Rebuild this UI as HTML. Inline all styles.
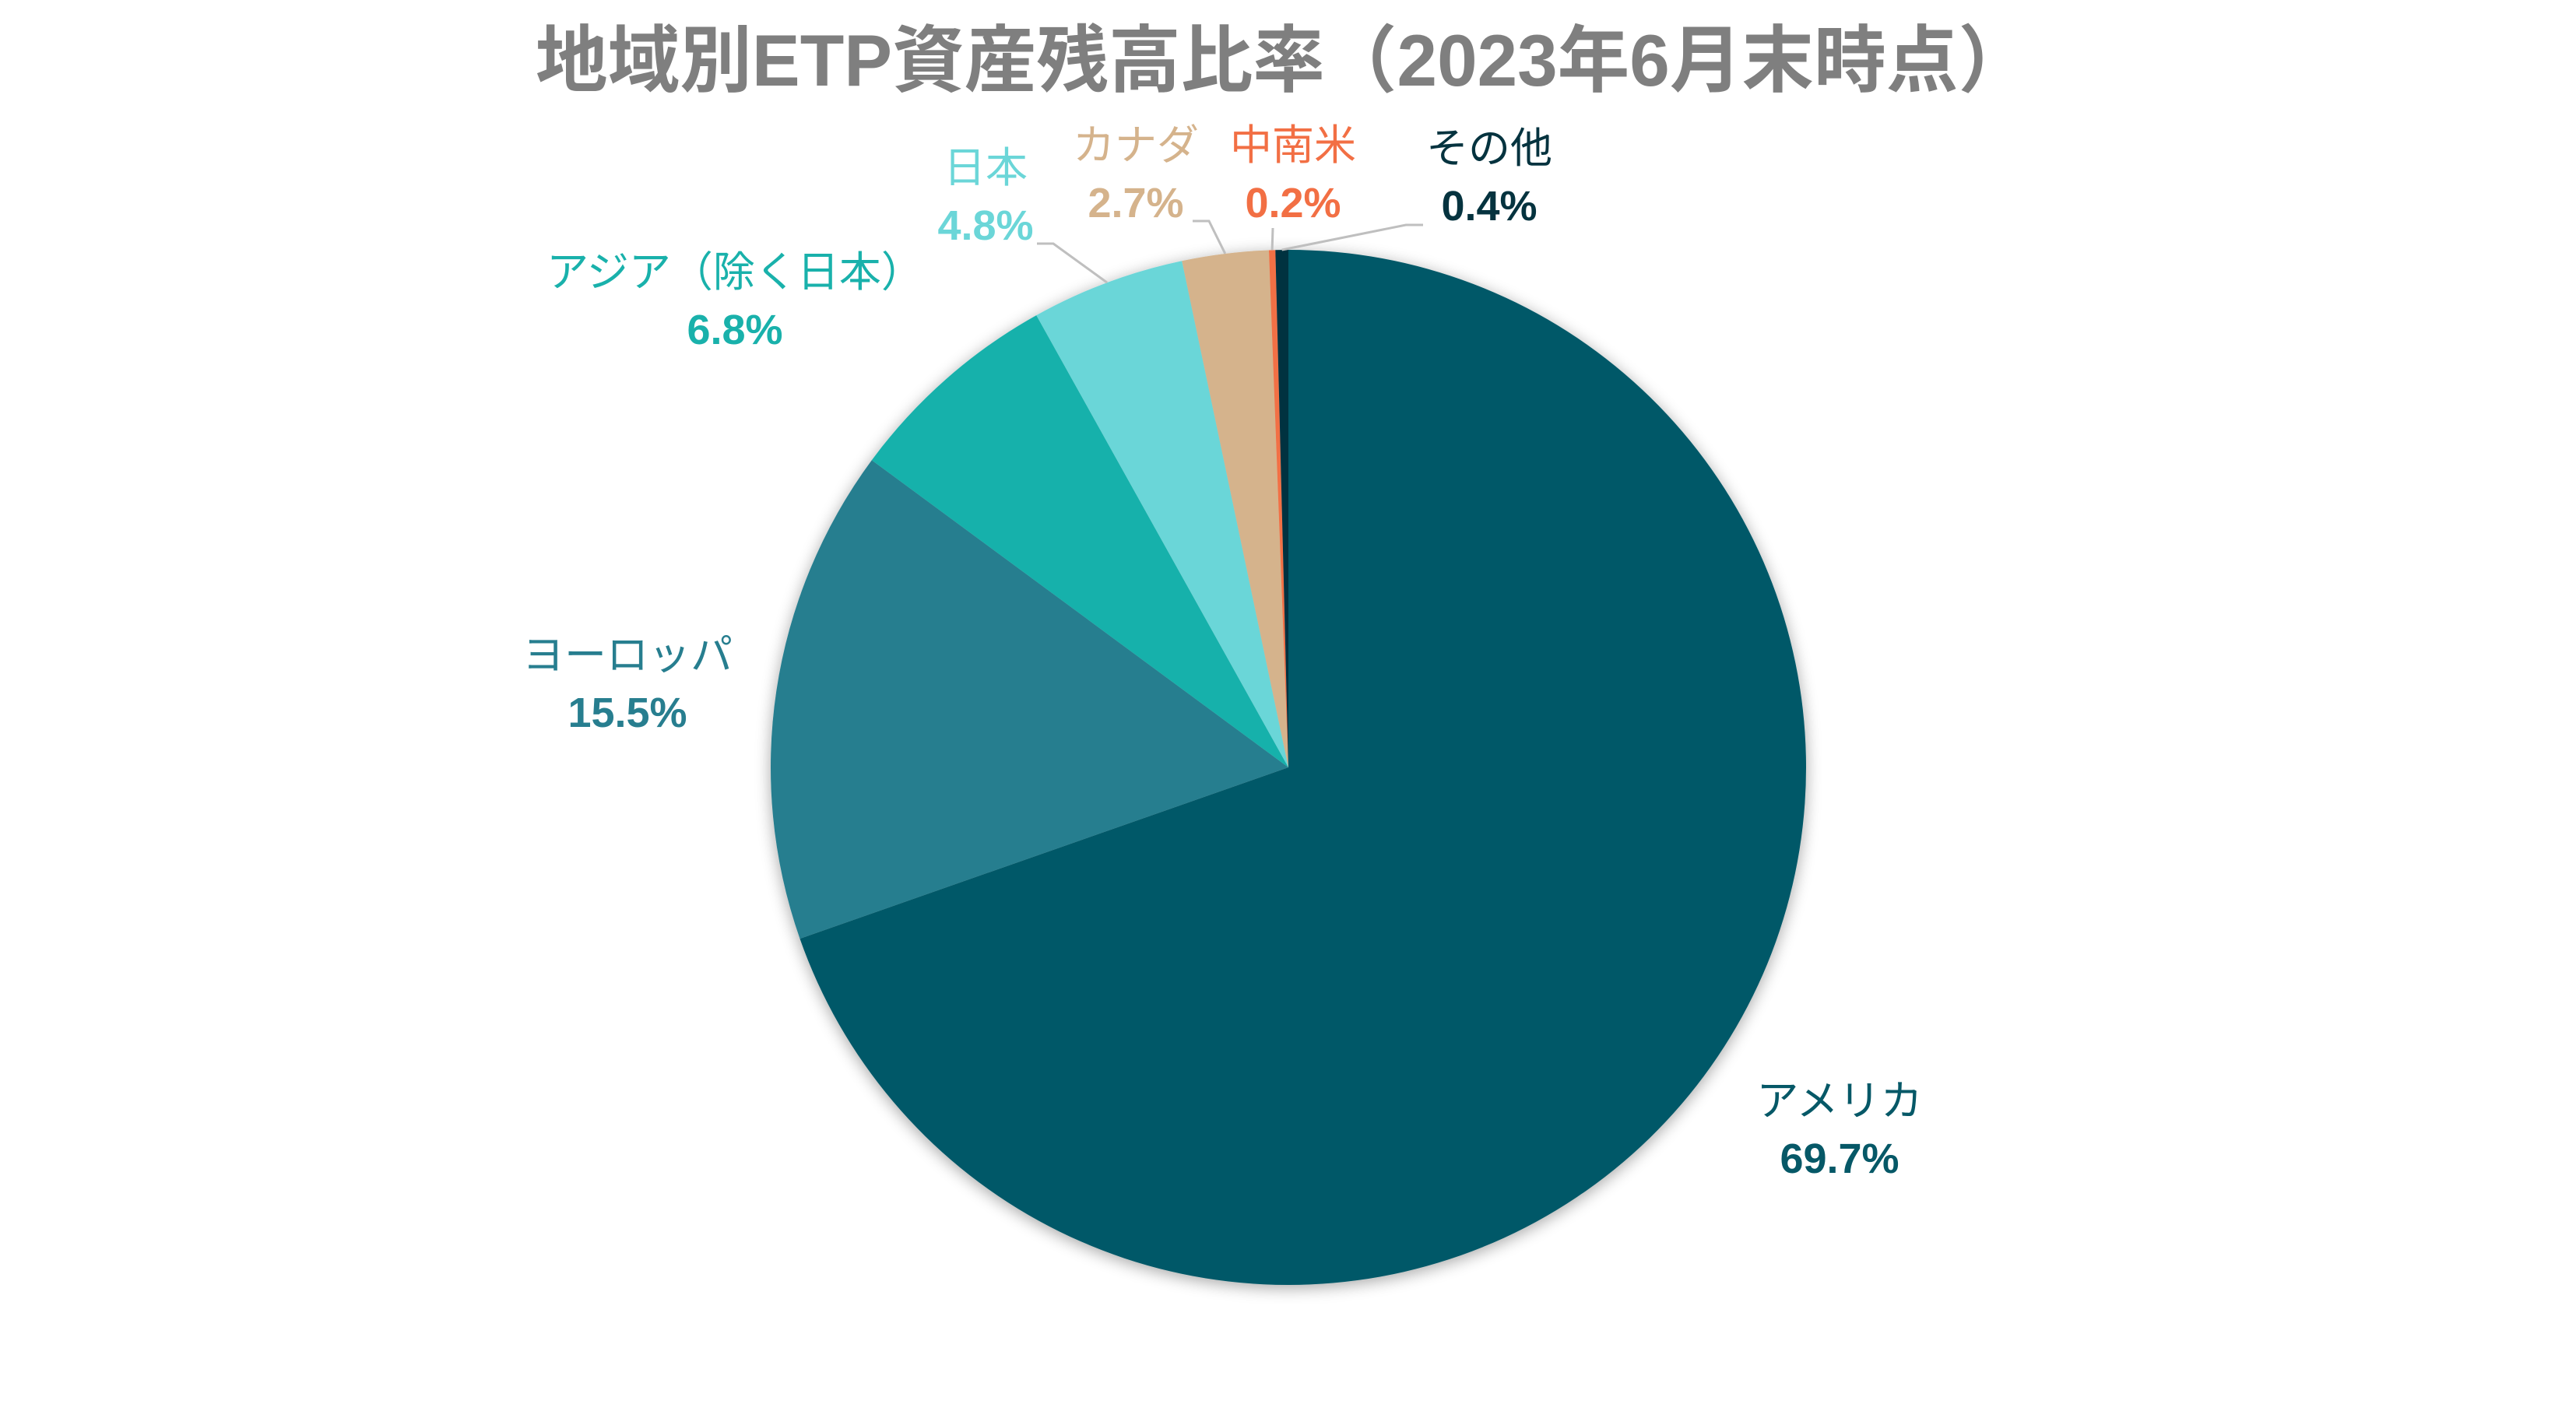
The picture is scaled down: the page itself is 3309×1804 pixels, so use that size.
<!DOCTYPE html>
<html><head><meta charset="utf-8"><style>
html,body{margin:0;padding:0;background:#fff;}
svg{display:block;}
text{font-family:"Liberation Sans","Noto Sans CJK JP",sans-serif;}
</style></head>
<body>
<svg id="chart" width="3309" height="1804" viewBox="0 0 3309 1804" xmlns="http://www.w3.org/2000/svg">
<defs>
<filter id="sh" x="-10%" y="-10%" width="120%" height="120%">
<feGaussianBlur in="SourceAlpha" stdDeviation="10"/>
<feOffset dx="0" dy="4"/>
<feComponentTransfer><feFuncA type="linear" slope="0.35"/></feComponentTransfer>
<feMerge><feMergeNode/><feMergeNode in="SourceGraphic"/></feMerge>
</filter>
</defs>
<text x="1648" y="110" text-anchor="middle" font-size="94" font-weight="bold" fill="#7f7f7f" textLength="1920" lengthAdjust="spacingAndGlyphs">地域別ETP資産残高比率（2023年6月末時点）</text>
<g id="slices" filter="url(#sh)"></g>
<g id="leaders"></g>
<g id="labels"></g>
</svg>
<script>
const categories = ["アメリカ","ヨーロッパ","アジア（除く日本）","日本","カナダ","中南米","その他"];
const values = [69.7,15.5,6.8,4.8,2.7,0.2,0.4];
const valueLabels = ["69.7%","15.5%","6.8%","4.8%","2.7%","0.2%","0.4%"];
const colors = ["#065867","#277e8f","#19b1ab","#6bd6d8","#d5b38c","#f26f44","#05333f"];
const labelColors = ["#065867","#277e8f","#19b1ab","#6bd6d8","#d5b38c","#f26f44","#05333f"];
const cx=1655, cy=986, r=665;
const NS="http://www.w3.org/2000/svg";
const total = values.reduce((a,b)=>a+b,0);
function pt(frac){const a=frac*2*Math.PI;return [cx+r*Math.sin(a), cy-r*Math.cos(a)];}
const gS=document.getElementById('slices');
let acc=0;
const mids=[];
values.forEach((v,i)=>{
  const f0=acc/total, f1=(acc+v)/total; acc+=v;
  mids.push((f0+f1)/2);
  const p0=pt(f0), p1=pt(f1);
  const large=(f1-f0)>0.5?1:0;
  const p=document.createElementNS(NS,'path');
  p.setAttribute('d',`M${cx},${cy} L${p0[0]},${p0[1]} A${r},${r} 0 ${large} 1 ${p1[0]},${p1[1]} Z`);
  p.setAttribute('fill',colors[i]);
  
  
  gS.appendChild(p);
});
// label anchor positions (layout, not data)
const labelPos=[[2363,1415],[806,842],[944,350],[1266,216],[1459,187],[1661,187],[1913,191]];
const gL=document.getElementById('labels');
categories.forEach((c,i)=>{
  const [x,y]=labelPos[i];
  const t1=document.createElementNS(NS,'text');
  t1.setAttribute('x',x);t1.setAttribute('y',y+18);
  t1.setAttribute('text-anchor','middle');t1.setAttribute('font-size','54');
  t1.setAttribute('fill',labelColors[i]);
  t1.textContent=c;
  
  
  gL.appendChild(t1);
  const t2=document.createElementNS(NS,'text');
  t2.setAttribute('x',x);t2.setAttribute('y',y+92);
  t2.setAttribute('text-anchor','middle');t2.setAttribute('font-size','54');
  t2.setAttribute('font-weight','bold');
  t2.setAttribute('fill',labelColors[i]);
  t2.textContent=valueLabels[i];
  
  
  gL.appendChild(t2);
});
// leader lines for small slices
const gLd=document.getElementById('leaders');
const leaderStarts={3:[[1332,313],[1353,313]],4:[[1532,284],[1553,284]],5:[[1635,293]],6:[[1828,289],[1806,289]]};
Object.keys(leaderStarts).forEach(k=>{
  const i=+k;
  const e=pt(mids[i]);
  const pts=leaderStarts[k].concat([[e[0],e[1]]]);
  const pl=document.createElementNS(NS,'polyline');
  pl.setAttribute('points',pts.map(p=>p.join(',')).join(' '));
  pl.setAttribute('fill','none');pl.setAttribute('stroke','#bfbfbf');pl.setAttribute('stroke-width','3');
  
  
  gLd.appendChild(pl);
});
</script>
</body></html>
